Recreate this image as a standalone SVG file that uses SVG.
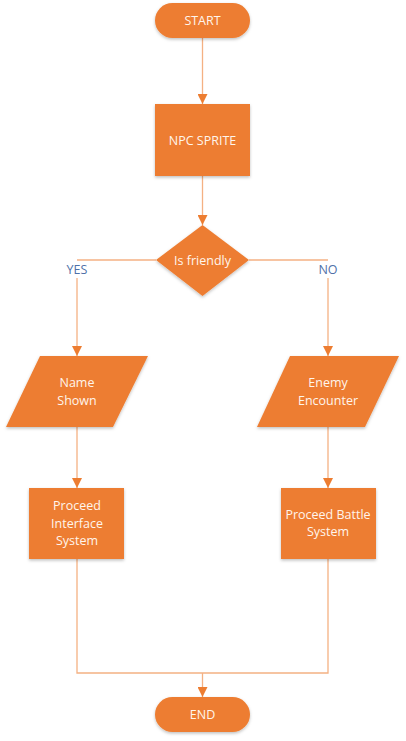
<svg xmlns="http://www.w3.org/2000/svg" width="406" height="741" viewBox="0 0 406 741">
<defs>
<marker id="arr" viewBox="0 0 10 10" refX="10" refY="5" markerWidth="10" markerHeight="10" markerUnits="userSpaceOnUse" orient="auto">
<path d="M0,0 L10,5 L0,10 z" fill="#ED7D31"/>
</marker>
<filter id="sh" x="-20%" y="-20%" width="140%" height="150%">
<feDropShadow dx="0" dy="1.5" stdDeviation="1.5" flood-color="#000" flood-opacity="0.25"/>
</filter>
</defs>
<style>
.n{fill:#ED7D31;filter:url(#sh);}
.t{font-family:"Open Sans","Noto Sans",sans-serif;font-size:12.5px;fill:#FFF5EC;text-anchor:middle;}
.c{fill:none;stroke:#F4B183;stroke-width:1.3;}
.a{marker-end:url(#arr);}
.lb{font-family:"Open Sans","Noto Sans",sans-serif;font-size:12.5px;fill:#4F71A8;text-anchor:middle;}
</style>
<rect width="406" height="741" fill="#fff"/>
<g id="connectors">
<path class="c a" d="M202.5,38 V104"/>
<path class="c a" d="M202.5,176 V225"/>
<path class="c" d="M156,260 H77"/>
<path class="c a" d="M77,278 V356"/>
<path class="c" d="M249,260 H328"/>
<path class="c a" d="M328,278 V356"/>
<path class="c a" d="M77,427 V488"/>
<path class="c a" d="M328,427 V488"/>
<path class="c" d="M77,559 V673 H328 V559"/>
<path class="c a" d="M202.5,673 V697"/>
<text class="lb" x="77" y="274">YES</text>
<text class="lb" x="328" y="274">NO</text>
</g>
<g id="start">
<rect class="n" x="155" y="3" width="95" height="35" rx="17.5"/>
<text class="t" x="202.5" y="25">START</text>
</g>
<g id="npc">
<rect class="n" x="155" y="104" width="95" height="72"/>
<text class="t" x="202.5" y="144.5">NPC SPRITE</text>
</g>
<g id="friendly">
<polygon class="n" points="202.5,225 249,260 202.5,296 156,260"/>
<text class="t" x="202.5" y="264.5">Is friendly</text>
</g>
<g id="name">
<polygon class="n" points="40,356 148,356 113,427 6,427"/>
<text class="t" x="77" y="387">Name</text>
<text class="t" x="77" y="405">Shown</text>
</g>
<g id="enemy">
<polygon class="n" points="290,356 399,356 365,427 257,427"/>
<text class="t" x="328" y="387">Enemy</text>
<text class="t" x="328" y="405">Encounter</text>
</g>
<g id="interface">
<rect class="n" x="29" y="488" width="95" height="71"/>
<text class="t" x="77" y="510">Proceed</text>
<text class="t" x="77" y="527.5">Interface</text>
<text class="t" x="77" y="545">System</text>
</g>
<g id="battle">
<rect class="n" x="281" y="488" width="95" height="71"/>
<text class="t" x="328" y="518.5">Proceed Battle</text>
<text class="t" x="328" y="536">System</text>
</g>
<g id="end">
<rect class="n" x="155" y="697" width="95" height="35" rx="17.5"/>
<text class="t" x="202.5" y="719">END</text>
</g>
</svg>
